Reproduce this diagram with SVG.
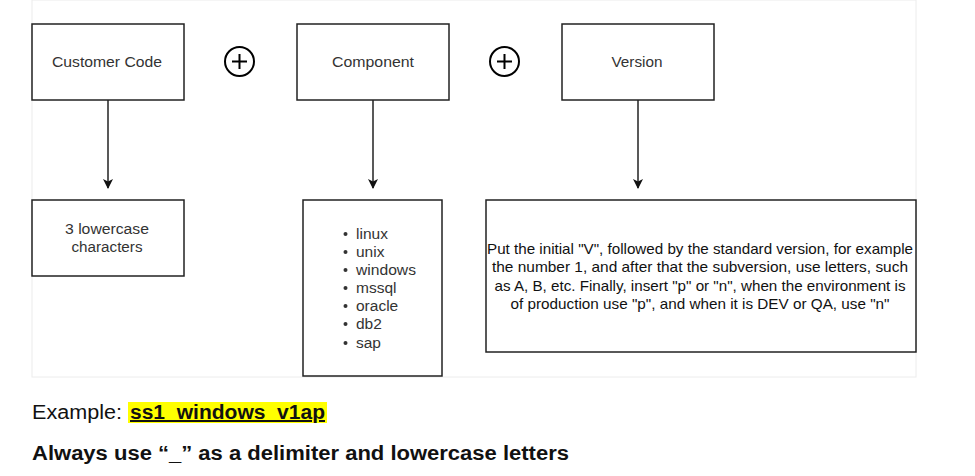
<svg xmlns="http://www.w3.org/2000/svg" width="975" height="476" viewBox="0 0 975 476">
<style>
.box{fill:#fff;stroke:#222;stroke-width:1.5}
.t{font-family:"Liberation Sans",Arial,sans-serif;fill:#333;font-size:15.5px}
.vt{font-family:"Liberation Sans",Arial,sans-serif;fill:#111;font-size:15px}
.conn{stroke:#222;stroke-width:1.5;fill:none}
.plus{fill:none;stroke:#000;stroke-width:2}
.big{font-family:"Liberation Sans",Arial,sans-serif;font-size:20px;fill:#111}
</style>
<defs>
<marker id="arr" viewBox="0 0 10 10" refX="9" refY="5" markerWidth="10" markerHeight="10" markerUnits="userSpaceOnUse" orient="auto">
<path d="M0,0 L10,5 L0,10 L2.5,5 Z" fill="#111"/>
</marker>
</defs>
<rect x="0" y="0" width="975" height="476" fill="#fff"/>
<rect x="32" y="0" width="884" height="377" fill="#fff" stroke="#ececec" stroke-width="1"/>
<g id="connectors">
<line class="conn" x1="108" y1="100" x2="108" y2="188" marker-end="url(#arr)"/>
<line class="conn" x1="373" y1="100" x2="373" y2="188" marker-end="url(#arr)"/>
<line class="conn" x1="638" y1="100" x2="638" y2="188" marker-end="url(#arr)"/>
</g>
<g id="customer-code">
<rect class="box" x="32" y="24" width="152" height="76"/>
<text class="t" x="107" y="67" text-anchor="middle" textLength="110" lengthAdjust="spacingAndGlyphs">Customer Code</text>
</g>
<g id="plus1">
<circle class="plus" cx="239.5" cy="61.5" r="14.5"/>
<path class="plus" d="M232,61.5 H247 M239.5,54 V69"/>
</g>
<g id="component">
<rect class="box" x="297" y="24" width="152" height="76"/>
<text class="t" x="373" y="67" text-anchor="middle" textLength="82" lengthAdjust="spacingAndGlyphs">Component</text>
</g>
<g id="plus2">
<circle class="plus" cx="504.5" cy="61.5" r="14.5"/>
<path class="plus" d="M497,61.5 H512 M504.5,54 V69"/>
</g>
<g id="version">
<rect class="box" x="562" y="24" width="152" height="76"/>
<text class="t" x="637" y="67" text-anchor="middle" textLength="51" lengthAdjust="spacingAndGlyphs">Version</text>
</g>
<g id="customer-code-desc">
<rect class="box" x="32" y="200" width="152" height="76"/>
<text class="t" x="107" y="234" text-anchor="middle" textLength="84" lengthAdjust="spacingAndGlyphs">3 lowercase</text>
<text class="t" x="107" y="252" text-anchor="middle" textLength="71" lengthAdjust="spacingAndGlyphs">characters</text>
</g>
<g id="component-list">
<rect class="box" x="303" y="200" width="139" height="176"/>
<g class="t">
<circle cx="345.5" cy="234" r="2"/><text x="356" y="239">linux</text>
<circle cx="345.5" cy="252" r="2"/><text x="356" y="257">unix</text>
<circle cx="345.5" cy="270" r="2"/><text x="356" y="275" textLength="60" lengthAdjust="spacingAndGlyphs">windows</text>
<circle cx="345.5" cy="288" r="2"/><text x="356" y="293">mssql</text>
<circle cx="345.5" cy="306" r="2"/><text x="356" y="311">oracle</text>
<circle cx="345.5" cy="324" r="2"/><text x="356" y="329">db2</text>
<circle cx="345.5" cy="343" r="2"/><text x="356" y="348">sap</text>
</g>
</g>
<g id="version-desc">
<rect class="box" x="486" y="200" width="430" height="152"/>
<text class="vt" x="700" y="254" text-anchor="middle" textLength="426" lengthAdjust="spacingAndGlyphs">Put the initial "V", followed by the standard version, for example</text>
<text class="vt" x="700" y="272" text-anchor="middle" textLength="416" lengthAdjust="spacingAndGlyphs">the number 1, and after that the subversion, use letters, such</text>
<text class="vt" x="700" y="291" text-anchor="middle" textLength="411" lengthAdjust="spacingAndGlyphs">as A, B, etc. Finally, insert "p" or "n", when the environment is</text>
<text class="vt" x="700" y="309" text-anchor="middle" textLength="379" lengthAdjust="spacingAndGlyphs">of production use "p", and when it is DEV or QA, use "n"</text>
</g>
<g id="example">
<rect x="128" y="402" width="199" height="21" fill="#ffff00"/>
<text class="big" x="32" y="419" textLength="90" lengthAdjust="spacingAndGlyphs">Example:</text>
<text class="big" x="130" y="419" font-weight="bold" text-decoration="underline" textLength="195" lengthAdjust="spacingAndGlyphs">ss1_windows_v1ap</text>
</g>
<text class="big" x="32" y="460" font-weight="bold" textLength="537" lengthAdjust="spacingAndGlyphs">Always use “_” as a delimiter and lowercase letters</text>
</svg>
